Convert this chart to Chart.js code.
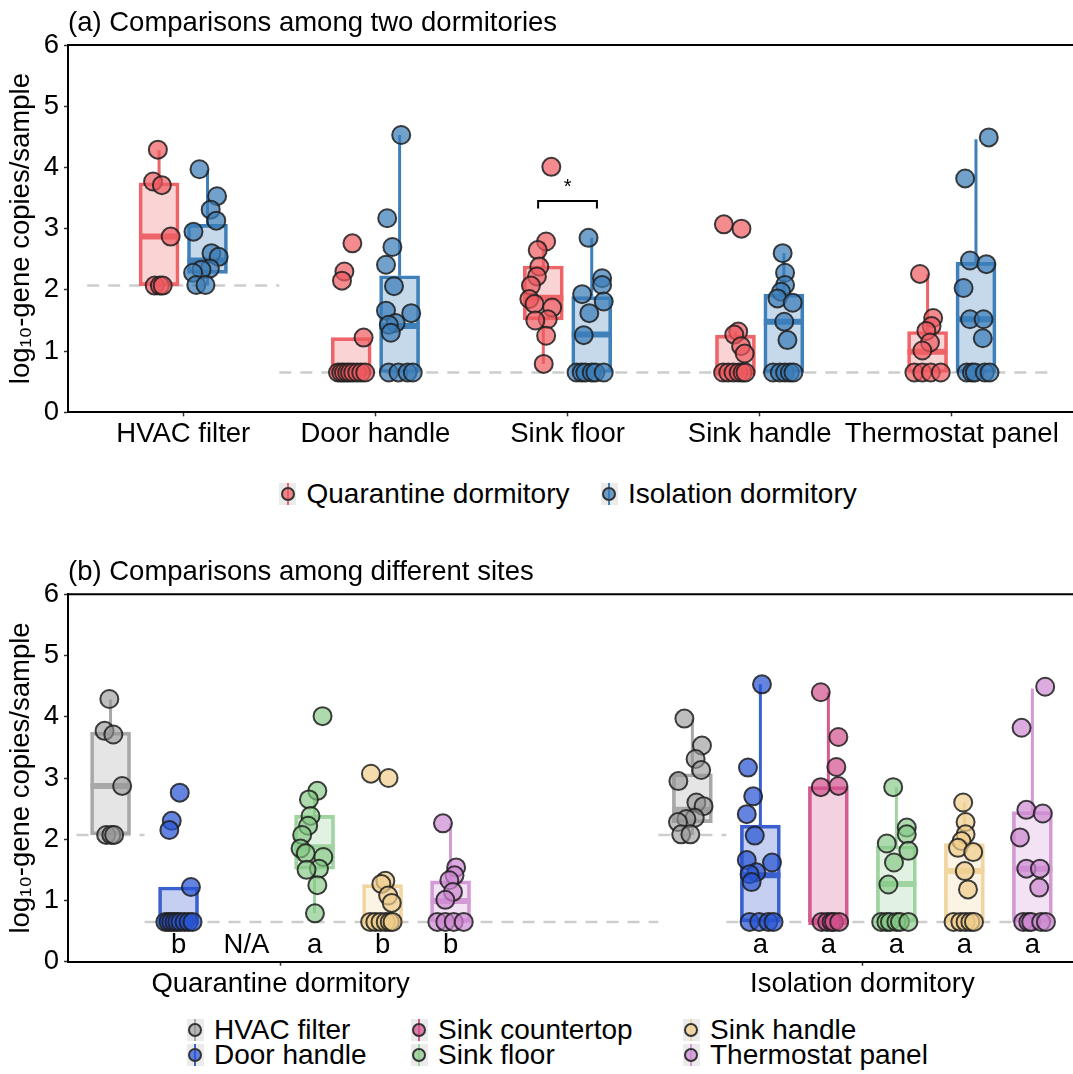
<!doctype html>
<html lang="en">
<head>
<meta charset="utf-8">
<title>Gene copies by sampling site and dormitory</title>
<script src="https://cdn.jsdelivr.net/npm/chart.js"></script>
<style>
  body { margin: 0; background: #fff; font-family: "Liberation Sans", Arial, sans-serif; }
  #page { position: relative; width: 1073px; height: 1074px; overflow: hidden; }
  canvas { position: absolute; left: 0; }
  .item { position: absolute; height: 26px; display: flex; align-items: center; font-size: 28px; color: #000; white-space: nowrap; }
  .key { position: relative; flex: none; width: 17px; height: 22px; background: #ebebeb; margin-right: 10.5px; }
  .key::before { content: ''; position: absolute; left: 7.5px; top: 0; width: 2px; height: 22px; background: var(--l); }
  .key i { position: absolute; left: 1.5px; top: 4px; width: 10px; height: 10px; border: 2px solid #333; border-radius: 50%; }
</style>
</head>
<body>
<div id="page">
  <canvas id="chartA" width="1073" height="470" style="top:0"></canvas>
  <canvas id="chartB" width="1073" height="470" style="top:540px"></canvas>
</div>
<script>
// log10 gene copies per sample; 2.07 and 0.65 are the detection limits
const lodHvac = 2.07;
const lodSurface = 0.65;

const sitesA = ['HVAC filter', 'Door handle', 'Sink floor', 'Sink handle', 'Thermostat panel'];
const sitesB = ['HVAC filter', 'Door handle', 'Sink countertop', 'Sink floor', 'Sink handle', 'Thermostat panel'];
const dorms = ['Quarantine dormitory', 'Isolation dormitory'];

// quarantine dormitory samples
const qHvac = [4.29, 3.77, 3.71, 2.87, 2.07, 2.07, 2.07];
const qDoor = [2.76, 2.30, 2.15, 1.22, 0.65, 0.65, 0.65, 0.65, 0.65, 0.65, 0.65, 0.65, 0.65];
const qFloor = [4.01, 2.79, 2.65, 2.38, 2.22, 2.07, 1.85, 1.77, 1.71, 1.52, 1.50, 1.25, 0.79];
const qHandle = [3.07, 3.00, 1.32, 1.27, 1.08, 0.96, 0.65, 0.65, 0.65, 0.65, 0.65, 0.65];
const qThermo = [2.26, 1.54, 1.41, 1.33, 1.14, 1.01, 0.65, 0.65, 0.65, 0.65];

// isolation dormitory samples
const iHvac = [3.97, 3.53, 3.31, 3.13, 2.95, 2.60, 2.54, 2.35, 2.33, 2.28, 2.08, 2.08];
const iDoor = [4.53, 3.17, 2.70, 2.41, 2.06, 1.66, 1.62, 1.46, 1.43, 1.30, 0.65, 0.65, 0.65, 0.65];
const iCounter = [4.40, 3.67, 3.18, 2.87, 2.85, 0.65, 0.65, 0.65, 0.65, 0.65];
const iFloor = [2.85, 2.19, 2.08, 1.93, 1.81, 1.62, 1.26, 0.65, 0.65, 0.65, 0.65, 0.65, 0.65];
const iHandle = [2.60, 2.28, 2.08, 1.97, 1.86, 1.79, 1.48, 1.18, 0.65, 0.65, 0.65, 0.65, 0.65];
const iThermo = [4.49, 3.82, 2.48, 2.42, 2.03, 1.52, 1.52, 1.21, 0.65, 0.65, 0.65, 0.65, 0.65];

// horizontal jitter of each point, as a fraction of the box width
const qHvacJit = [-0.03, -0.15, 0.07, 0.29, -0.11, 0.02, 0.09];
const qDoorJit = [0.03, -0.17, -0.23, 0.31, -0.33, -0.25, -0.18, -0.10, -0.03, 0.05, 0.15, 0.25, 0.35];
const qFloorJit = [0.20, 0.07, -0.14, -0.10, -0.16, -0.31, -0.35, -0.22, 0.22, 0.11, -0.20, 0.07, 0.01];
const qHandleJit = [-0.29, 0.15, 0.07, -0.03, 0.14, 0.23, -0.31, -0.18, -0.05, 0.08, 0.18, 0.25];
const qThermoJit = [-0.19, 0.14, 0.10, -0.03, 0.06, -0.13, -0.33, -0.13, 0.08, 0.33];
const iHvacJit = [-0.20, 0.24, 0.08, 0.22, -0.35, 0.10, 0.28, 0.06, -0.15, -0.36, -0.28, -0.05];
const iDoorJit = [0.04, -0.31, -0.18, -0.34, -0.14, -0.34, 0.29, -0.10, -0.27, -0.22, -0.27, -0.03, 0.20, 0.33];
const iCounterJit = [-0.19, 0.25, 0.20, 0.25, -0.19, -0.17, -0.03, 0.08, 0.14, 0.27];
const iFloorJit = [-0.08, 0.26, 0.26, -0.24, 0.30, -0.06, -0.20, -0.38, -0.25, -0.16, 0.00, 0.09, 0.30];
const iHandleJit = [-0.03, 0.03, 0.03, -0.07, -0.16, 0.22, 0.01, 0.09, -0.27, -0.10, 0.03, 0.15, 0.24];
const iThermoJit = [0.32, -0.27, -0.15, 0.26, -0.31, -0.15, 0.19, 0.17, -0.23, -0.10, -0.03, 0.22, 0.34];

// box stats: [lower whisker, q1, median, q3, upper whisker]
const qHvacBox = [2.07, 2.07, 2.87, 3.75, 4.28];
const qDoorBox = [0.65, 0.65, 0.65, 1.22, 1.22];
const qFloorBox = [0.79, 1.51, 1.87, 2.39, 2.79];
const qHandleBox = [0.65, 0.65, 0.65, 1.26, 1.32];
const qThermoBox = [0.65, 0.65, 0.99, 1.32, 2.26];
const iHvacBox = [2.07, 2.27, 2.48, 3.07, 3.96];
const iDoorBox = [0.65, 0.65, 1.41, 2.23, 4.53];
const iCounterBox = [0.65, 0.65, 0.65, 2.86, 4.40];
const iFloorBox = [0.65, 0.65, 1.27, 1.89, 2.85];
const iHandleBox = [0.65, 0.65, 1.48, 1.93, 2.60];
const iThermoBox = [0.65, 0.65, 1.52, 2.45, 4.46];

// compact letter display under each box (panel b)
const qLetters = ['', 'b', 'N/A', 'a', 'b', 'b'];
const iLetters = ['', 'a', 'a', 'a', 'a', 'a'];

// lookup tables by dormitory then site (null = not sampled)
const pts = [[qHvac, qDoor, null, qFloor, qHandle, qThermo], [iHvac, iDoor, iCounter, iFloor, iHandle, iThermo]];
const jit = [[qHvacJit, qDoorJit, null, qFloorJit, qHandleJit, qThermoJit], [iHvacJit, iDoorJit, iCounterJit, iFloorJit, iHandleJit, iThermoJit]];
const boxes = [[qHvacBox, qDoorBox, null, qFloorBox, qHandleBox, qThermoBox], [iHvacBox, iDoorBox, iCounterBox, iFloorBox, iHandleBox, iThermoBox]];
const letters = [qLetters, iLetters];
const siteIdxA = [0, 1, 3, 4, 5];

const dormStyle = [
  { point: 'rgba(238,90,95,0.7)', line: '#ee6469', fill: 'rgba(238,100,105,0.28)' },
  { point: 'rgba(60,125,185,0.72)', line: '#3f80bb', fill: 'rgba(63,128,187,0.3)' }
];
const siteStyle = [
  { point: 'rgba(150,150,150,0.62)', line: '#a8a8a8', fill: 'rgba(160,160,160,0.28)' },
  { point: 'rgba(40,85,210,0.72)', line: '#3a5fcf', fill: 'rgba(58,95,207,0.3)' },
  { point: 'rgba(210,80,140,0.7)', line: '#d45a8f', fill: 'rgba(212,90,143,0.28)' },
  { point: 'rgba(130,200,130,0.65)', line: '#9fd39f', fill: 'rgba(140,205,140,0.25)' },
  { point: 'rgba(240,205,140,0.7)', line: '#f0d59f', fill: 'rgba(240,210,150,0.25)' },
  { point: 'rgba(205,135,210,0.7)', line: '#d49ad6', fill: 'rgba(205,140,210,0.25)' }
];

const FONT = '"Liberation Sans", Arial, sans-serif';
const FS = 27.5;
Chart.defaults.font.family = FONT;
Chart.defaults.color = '#000';

const PLOT_W = 1005;   // chart area width in px
const BOX_PX = 40;

// panel a: sites at 0..4, dormitories dodged either side
const xA = { min: -0.6, max: 4.631 };
const unitA = PLOT_W / (xA.max - xA.min);
const dodgeA = 24.2 / unitA;
const centerA = (d, i) => i + (d === 0 ? -dodgeA : dodgeA);

// panel b: dormitories at 1 and 2, six site slots within each
const xB = { min: 0.6347, max: 2.362 };
const unitB = PLOT_W / (xB.max - xB.min);
const slotB = 68 / unitB;
const centerB = (d, k) => d + 1 + (k - 2.5) * slotB;

function boxLayers(items, style, boxW) {
  const dots = [], bars = [], meds = [], whisk = [];
  items.forEach(({ cx, vals, jx, box }) => {
    vals.forEach((v, i) => dots.push({ x: cx + jx[i] * boxW, y: v }));
    bars.push({ x: cx, y: [box[1], box[3]] });
    meds.push({ x: cx, y: box[2] });
    whisk.push({ x: cx, y: box[0] }, { x: cx, y: box[1] }, { x: cx, y: null },
               { x: cx, y: box[3] }, { x: cx, y: box[4] }, { x: cx, y: null });
  });
  return [
    { type: 'line', data: whisk, borderColor: style.line, borderWidth: 3, pointRadius: 0, spanGaps: false, order: 5 },
    { type: 'bar', data: bars, backgroundColor: style.fill, borderColor: style.line, borderWidth: 3,
      borderSkipped: false, barThickness: BOX_PX, grouped: false, order: 4 },
    { type: 'scatter', data: meds, pointStyle: 'line', pointRadius: BOX_PX / 2,
      pointBorderColor: style.line, pointBorderWidth: 6, order: 3 },
    { type: 'scatter', data: dots, pointRadius: 9, pointBackgroundColor: style.point,
      pointBorderColor: 'rgba(30,30,30,0.85)', pointBorderWidth: 2, order: 1 }
  ];
}

function lodLine(data) {
  return { type: 'line', data, borderColor: '#cdcdcd', borderWidth: 2.5, borderDash: [12, 9],
           pointRadius: 0, spanGaps: false, order: 8 };
}

// title, top frame edge and text notes placed on the data scales
const panelText = {
  id: 'panelText',
  afterDatasetsDraw(chart, args, opts) {
    const { ctx, chartArea, scales } = chart;
    ctx.save();
    ctx.strokeStyle = '#000';
    ctx.lineWidth = 2;
    ctx.beginPath();
    ctx.moveTo(chartArea.left, chartArea.top);
    ctx.lineTo(chartArea.right, chartArea.top);
    ctx.stroke();
    ctx.fillStyle = '#000';
    ctx.textBaseline = 'middle';
    ctx.textAlign = 'left';
    ctx.font = FS + 'px ' + FONT;
    ctx.fillText(opts.title, chartArea.left, chartArea.top - 22);
    ctx.textAlign = 'center';
    (opts.notes || []).forEach(n => {
      ctx.font = (n.size || FS) + 'px ' + FONT;
      ctx.fillText(n.text, scales.x.getPixelForValue(n.x), scales.y.getPixelForValue(n.y));
    });
    ctx.restore();
  }
};

function makeOptions(cfg) {
  const tickGrid = { drawOnChartArea: false, offset: false, tickLength: 4, tickColor: '#333', tickWidth: 1.5 };
  return {
    responsive: false,
    animation: false,
    events: [],
    layout: { autoPadding: false, padding: { top: cfg.top, left: 0, right: 0, bottom: 0 } },
    plugins: {
      legend: { display: false },
      tooltip: { enabled: false },
      panelText: { title: cfg.title, notes: cfg.notes }
    },
    scales: {
      x: {
        type: 'linear', min: cfg.xmin, max: cfg.xmax, offset: false,
        afterBuildTicks: s => { s.ticks = cfg.ticks.map(v => ({ value: v })); },
        afterFit: s => { s.height = cfg.xh; s.paddingLeft = 0; s.paddingRight = 0; },
        ticks: { autoSkip: false, maxRotation: 0, padding: 2, font: { size: FS }, color: '#000',
                 callback: v => cfg.labels[cfg.ticks.indexOf(v)] },
        grid: tickGrid,
        border: { color: '#000', width: 2 }
      },
      y: {
        min: 0, max: 6,
        afterFit: s => { s.width = 68; },
        ticks: { stepSize: 1, padding: 5, font: { size: FS }, color: '#000' },
        grid: tickGrid,
        border: { color: '#000', width: 2 },
        title: { display: true, text: 'log₁₀-gene copies/sample', font: { size: FS }, color: '#000',
                 padding: { top: 5, bottom: 0 } }
      }
    }
  };
}

// ---- panel a: dormitory comparison per site
const setsA = [
  lodLine([{ x: -0.5, y: lodHvac }, { x: 0.5, y: lodHvac }]),
  lodLine([{ x: 0.5, y: lodSurface }, { x: 4.5, y: lodSurface }])
];
[0, 1].forEach(d => {
  const items = siteIdxA.map((k, i) => ({ cx: centerA(d, i), vals: pts[d][k], jx: jit[d][k], box: boxes[d][k] }));
  setsA.push(...boxLayers(items, dormStyle[d], BOX_PX / unitA));
});
// significance bracket over sink floor
const brW = 0.153;
setsA.push({ type: 'line', data: [{ x: 2 - brW, y: 3.33 }, { x: 2 - brW, y: 3.45 }, { x: 2 + brW, y: 3.45 }, { x: 2 + brW, y: 3.33 }],
             borderColor: '#000', borderWidth: 2, pointRadius: 0, order: 0 });

new Chart(document.getElementById('chartA'), {
  type: 'scatter',
  data: { datasets: setsA },
  options: makeOptions({
    top: 45, xh: 57.7, xmin: xA.min, xmax: xA.max,
    ticks: [0, 1, 2, 3, 4], labels: sitesA,
    title: '(a) Comparisons among two dormitories',
    notes: [{ x: 2, y: 3.68, text: '*', size: 20 }]
  }),
  plugins: [panelText]
});

// ---- panel b: site comparison within each dormitory
const hvL = d => centerB(d, 0) - slotB / 2;
const hvR = d => centerB(d, 0) + slotB / 2;
const setsB = [
  lodLine([{ x: hvL(0), y: lodHvac }, { x: hvR(0), y: lodHvac }, { x: hvR(0), y: null },
           { x: hvL(1), y: lodHvac }, { x: hvR(1), y: lodHvac }]),
  lodLine([{ x: hvR(0), y: lodSurface }, { x: hvL(1), y: lodSurface }, { x: hvL(1), y: null },
           { x: hvR(1), y: lodSurface }, { x: 2.33, y: lodSurface }])
];
const notesB = [];
sitesB.forEach((site, k) => {
  const items = [];
  [0, 1].forEach(d => {
    if (pts[d][k]) items.push({ cx: centerB(d, k), vals: pts[d][k], jx: jit[d][k], box: boxes[d][k] });
    if (letters[d][k]) notesB.push({ x: centerB(d, k), y: 0.27, text: letters[d][k] });
  });
  setsB.push(...boxLayers(items, siteStyle[k], BOX_PX / unitB));
});

new Chart(document.getElementById('chartB'), {
  type: 'scatter',
  data: { datasets: setsB },
  options: makeOptions({
    top: 54.3, xh: 48.3, xmin: xB.min, xmax: xB.max,
    ticks: [1, 2], labels: dorms,
    title: '(b) Comparisons among different sites',
    notes: notesB
  }),
  plugins: [panelText]
});

// ---- legends
const page = document.getElementById('page');
function legendItem(cx, cy, label, style) {
  const el = document.createElement('div');
  el.className = 'item';
  el.style.left = (cx - 8.5) + 'px';
  el.style.top = (cy - 13) + 'px';
  el.innerHTML = '<span class="key" style="--l:' + style.line + '"><i style="background:' + style.point +
                 '"></i></span><span>' + label + '</span>';
  page.appendChild(el);
}
const legendAx = [287.5, 609];
dorms.forEach((name, d) => legendItem(legendAx[d], 494, name, dormStyle[d]));
const legendBx = [195, 419, 691];
const legendBy = [1030, 1055];
sitesB.forEach((name, k) => legendItem(legendBx[Math.floor(k / 2)], legendBy[k % 2], name, siteStyle[k]));
</script>
</body>
</html>
